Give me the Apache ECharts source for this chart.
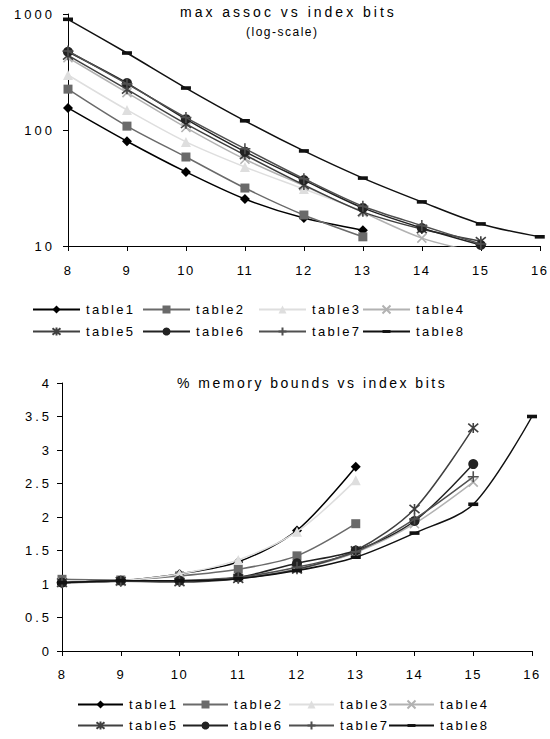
<!DOCTYPE html>
<html>
<head>
<meta charset="utf-8">
<script src="https://cdn.jsdelivr.net/npm/echarts@6/dist/echarts.min.js"></script>
<style>
  html, body { margin: 0; padding: 0; background: #fff; }
  #chart { width: 550px; height: 739px; }
</style>
</head>
<body>
<div id="chart"></div>
<script>
// index bits on the x axis (shared by both panels)
const indexBits = ['8', '9', '10', '11', '12', '13', '14', '15', '16'];
const seriesNames = ['table1', 'table2', 'table3', 'table4', 'table5', 'table6', 'table7', 'table8'];

// max associativity per table (log scale panel)
const assocTable1 = [155, 80, 43.5, 25.4, 17.4, 13.7];
const assocTable2 = [225, 108, 58.5, 31.6, 18.5, 12];
const assocTable3 = [298, 149, 79, 48, 31, 20];
const assocTable4 = [420, 210, 105, 56, 33, 19.5, 11.7, 8.7];
const assocTable5 = [440, 224, 113, 61, 33.6, 19.7, 14, 11];
const assocTable6 = [473, 254, 124, 65, 37, 21.3, 14.3, 10.2];
const assocTable7 = [480, 250, 128, 69, 38, 22, 15, 10.4];
const assocTable8 = [900, 461, 230, 120, 66, 38.5, 24, 15.5, 12];

// % memory bounds per table
const memTable1 = [1.02, 1.05, 1.15, 1.33, 1.8, 2.75];
const memTable2 = [1.07, 1.06, 1.12, 1.22, 1.42, 1.9];
const memTable3 = [1.03, 1.05, 1.15, 1.36, 1.78, 2.55];
const memTable4 = [1.02, 1.04, 1.05, 1.09, 1.22, 1.47, 1.9, 2.52];
const memTable5 = [1.02, 1.04, 1.03, 1.08, 1.22, 1.5, 2.12, 3.33];
const memTable6 = [1.02, 1.05, 1.05, 1.1, 1.31, 1.5, 1.94, 2.79];
const memTable7 = [1.02, 1.04, 1.05, 1.1, 1.25, 1.48, 1.97, 2.6];
const memTable8 = [1.02, 1.05, 1.05, 1.08, 1.2, 1.4, 1.76, 2.19, 3.5];

// tick labels
const assocTicks = [10, 100, 1000];
const memTicks = ['0', '0.5', '1', '1.5', '2', '2.5', '3', '3.5', '4'];

const titleTop = 'max assoc vs index bits';
const subTitleTop = '(log-scale)';
const titleBottom = '% memory bounds vs index bits';

const assocData = [assocTable1, assocTable2, assocTable3, assocTable4, assocTable5, assocTable6, assocTable7, assocTable8];
const memData = [memTable1, memTable2, memTable3, memTable4, memTable5, memTable6, memTable7, memTable8];

const FONT = '"Liberation Sans", Arial, sans-serif';

// marker look per table
const looks = [
  { color: '#000000', symbol: 'diamond', size: 10, stroke: false },
  { color: '#6a6a6a', symbol: 'rect', size: 9, stroke: false },
  { color: '#dedede', symbol: 'triangle', size: 10, stroke: false },
  { color: '#b2b2b2', symbol: 'path://M0 0L10 10M10 0L0 10', size: 9, stroke: true },
  { color: '#404040', symbol: 'path://M0 0L10 10M10 0L0 10M5 -1L5 11', size: 10, stroke: true },
  { color: '#222222', symbol: 'circle', size: 10, stroke: false },
  { color: '#505050', symbol: 'path://M5 0L5 10M0 5L10 5', size: 11, stroke: true },
  // short flat bar, kept inside a square frame so it scales evenly
  { color: '#111111', symbol: 'path://M0 0M10 10M0 3.2L10 3.2L10 6.8L0 6.8Z', size: 10, stroke: false }
];

function makeSeries(values, i, axisIdx) {
  const lk = looks[i];
  return {
    name: seriesNames[i],
    type: 'line',
    xAxisIndex: axisIdx,
    yAxisIndex: axisIdx,
    data: values,
    smooth: 0.3,
    clip: true,
    symbol: lk.symbol,
    symbolSize: lk.size,
    showAllSymbol: true,
    lineStyle: { color: lk.color, width: 1.5 },
    itemStyle: lk.stroke
      ? { color: lk.color, borderColor: lk.color, borderWidth: 1.6 }
      : { color: lk.color, borderWidth: 0 },
    emphasis: { disabled: true },
    z: 2 + i
  };
}

const series = [];
assocData.forEach((v, i) => series.push(makeSeries(v, i, 0)));
memData.forEach((v, i) => series.push(makeSeries(v, i, 1)));

// legends: one per entry, two rows of four under each panel
const legendCols = [
  [32, 142, 258, 362],
  [77, 182, 288, 388]
];
const legendRows = [[303, 325], [698, 719]];
const legends = [];
[0, 1].forEach(panel => {
  seriesNames.forEach((n, i) => {
    legends.push({
      data: [n],
      left: legendCols[panel][i % 4],
      top: legendRows[panel][Math.floor(i / 4)],
      padding: 0,
      itemWidth: panel === 0 ? 47 : 45,
      itemHeight: 10,
      itemGap: 0,
      selectedMode: false,
      textStyle: { fontFamily: FONT, fontSize: 13, color: '#000', padding: [0, 0, 0, 1] }
    });
  });
});

const axisLine = { show: true, lineStyle: { color: '#000', width: 1 } };
const axisTick = { show: true, length: 5, lineStyle: { color: '#000', width: 1 } };

const option = {
  animation: false,
  backgroundColor: '#fff',
  title: [
    { text: titleTop, left: 180, top: 5, padding: 0,
      textStyle: { fontFamily: FONT, fontSize: 14, fontWeight: 'normal', color: '#000' } },
    { text: subTitleTop, left: 246, top: 26, padding: 0,
      textStyle: { fontFamily: FONT, fontSize: 12, fontWeight: 'normal', color: '#000' } },
    { text: titleBottom, left: 177, top: 376, padding: 0,
      textStyle: { fontFamily: FONT, fontSize: 14, fontWeight: 'normal', color: '#000' } }
  ],
  legend: legends,
  grid: [
    { left: 68, top: 14, width: 473, height: 232, containLabel: false },
    { left: 62, top: 383, width: 470, height: 268, containLabel: false }
  ],
  xAxis: [
    { type: 'category', gridIndex: 0, data: indexBits, boundaryGap: false,
      axisLine, axisTick: Object.assign({ alignWithLabel: true }, axisTick),
      axisLabel: { margin: 18, fontFamily: FONT, fontSize: 13, color: '#000', interval: 0 },
      splitLine: { show: false } },
    { type: 'category', gridIndex: 1, data: indexBits, boundaryGap: false,
      axisLine, axisTick: Object.assign({ alignWithLabel: true }, axisTick),
      axisLabel: { margin: 17, fontFamily: FONT, fontSize: 13, color: '#000', interval: 0 },
      splitLine: { show: false } }
  ],
  yAxis: [
    { type: 'log', gridIndex: 0, logBase: 10, min: assocTicks[0], max: assocTicks[assocTicks.length - 1],
      axisLine, axisTick, minorTick: { show: false },
      axisLabel: { margin: 13, fontFamily: FONT, fontSize: 13, color: '#000',
        formatter: v => String(Math.round(v)) },
      splitLine: { show: false } },
    { type: 'value', gridIndex: 1, min: 0, max: 4, interval: 0.5,
      axisLine, axisTick,
      axisLabel: { margin: 10, fontFamily: FONT, fontSize: 13, color: '#000',
        formatter: v => memTicks[Math.round(v * 2)] },
      splitLine: { show: false } }
  ],
  tooltip: { show: false },
  series
};

const dom = document.getElementById('chart');
const chart = echarts.init(dom, null, { renderer: 'svg', width: 550, height: 739 });
chart.setOption(option);

// widen the glyph spacing of every label
function spaceText() {
  dom.querySelectorAll('text').forEach(t => {
    const s = (t.textContent || '').trim();
    const anchor = t.getAttribute('text-anchor') || '';
    let ls = 2.3;
    if (s === titleTop) ls = 3;
    else if (s === titleBottom) ls = 2.5;
    else if (s === subTitleTop) ls = 1.5;
    else if (anchor === 'end') ls = 3;
    else if (anchor === 'middle') ls = 1.5;
    t.style.letterSpacing = ls + 'px';
  });
}
spaceText();
chart.on('finished', spaceText);
</script>
</body>
</html>
